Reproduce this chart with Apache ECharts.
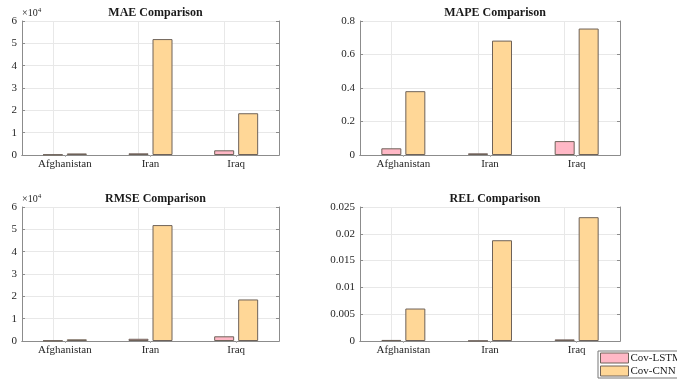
<!DOCTYPE html>
<html><head><meta charset="utf-8">
<script src="https://cdn.jsdelivr.net/npm/echarts@6/dist/echarts.min.js"></script>
<style>html,body{margin:0;padding:0;background:#fff}#c{width:677px;height:379px}</style>
</head><body><div id="c"></div>
<script>
const categories = ['Afghanistan', 'Iran', 'Iraq'];
const seriesNames = ['Cov-LSTM', 'Cov-CNN'];
const maeLstm = [200, 750, 2100];
const maeCnn = [700, 51900, 18700];
const mapeLstm = [0.040, 0.010, 0.083];
const mapeCnn = [0.381, 0.683, 0.755];
const rmseLstm = [200, 1000, 2100];
const rmseCnn = [750, 51900, 18600];
const relLstm = [0.0002, 0.00005, 0.0003];
const relCnn = [0.00606, 0.0188, 0.0231];
const titles = ['MAE Comparison', 'MAPE Comparison', 'RMSE Comparison', 'REL Comparison'];
const yMax = [60000, 0.8, 60000, 0.025];
const yInterval = [10000, 0.2, 10000, 0.005];

const FONT = 'Liberation Serif';
const grids = [
  {left: 22, top: 21, width: 257, height: 134},
  {left: 360, top: 21, width: 260, height: 134},
  {left: 22, top: 207, width: 257, height: 134},
  {left: 360, top: 207, width: 260, height: 134}
];
const pairs = [[maeLstm, maeCnn], [mapeLstm, mapeCnn], [rmseLstm, rmseCnn], [relLstm, relCnn]];
const colors = ['#FFB8C6', '#FFD797'];
const edge = '#6e6259';
const axisCol = '#8c8c8c';

const option = {
  animation: false,
  backgroundColor: '#fff',
  title: grids.map((g, i) => ({
    text: titles[i], left: g.left + g.width / 2, top: g.top - 19, textAlign: 'center',
    textStyle: {fontFamily: FONT, fontSize: 12, fontWeight: 'bold', color: '#1a1a1a'}
  })),
  legend: {
    data: seriesNames, orient: 'vertical', left: 598, top: 351, icon: 'rect',
    itemWidth: 28, itemHeight: 10, itemGap: 1, padding: [1, 4, 1, 2],
    borderColor: '#777', borderWidth: 1, backgroundColor: '#fff', borderRadius: 0,
    textStyle: {fontFamily: FONT, fontSize: 11, color: '#1a1a1a', lineHeight: 12, padding: [0, 0, 0, -3]},
    itemStyle: {borderColor: edge, borderWidth: 1}
  },
  grid: grids.map(g => Object.assign({containLabel: false}, g)),
  xAxis: [],
  yAxis: [],
  series: []
};

grids.forEach((g, i) => {
  option.xAxis.push({
    type: 'category', gridIndex: i, data: categories, position: 'bottom',
    axisLine: {lineStyle: {color: axisCol}},
    axisTick: {show: false},
    axisLabel: {fontFamily: FONT, fontSize: 11, color: '#262626', margin: 4},
    splitLine: {show: false}
  });
  option.xAxis.push({
    type: 'category', gridIndex: i, data: categories, position: 'top',
    axisLine: {lineStyle: {color: axisCol}},
    axisTick: {show: true, inside: true, alignWithLabel: true, length: 2, lineStyle: {color: '#b0b0b0'}},
    axisLabel: {show: false}, splitLine: {show: false}
  });
  const sci = (i === 0 || i === 2);
  option.yAxis.push({
    type: 'value', gridIndex: i, min: 0, max: yMax[i], interval: yInterval[i], position: 'left',
    name: sci ? '×10{s|4}' : '', nameLocation: 'end', nameGap: 2,
    nameTextStyle: {fontFamily: FONT, fontSize: 10, color: '#262626', align: 'left', verticalAlign: 'bottom',
      rich: {s: {fontFamily: FONT, fontSize: 7, verticalAlign: 'top', padding: [0, 0, 5, 0], color: '#262626'}}},
    axisLine: {show: true, lineStyle: {color: axisCol}},
    axisTick: {show: true, inside: true, length: 3, lineStyle: {color: axisCol}},
    axisLabel: {fontFamily: FONT, fontSize: 11, color: '#262626', margin: 5,
      formatter: sci ? (v => String(v / 10000)) : (v => String(+v.toFixed(4)))},
    splitLine: {show: true, lineStyle: {color: '#e8e8e8', width: 1}}
  });
  option.yAxis.push({
    type: 'value', gridIndex: i, min: 0, max: yMax[i], interval: yInterval[i], position: 'right',
    axisLine: {show: true, lineStyle: {color: axisCol}},
    axisTick: {show: true, inside: true, length: 3, lineStyle: {color: axisCol}},
    axisLabel: {show: false}, splitLine: {show: false}
  });
  pairs[i].forEach((arr, k) => {
    const s = {
      name: seriesNames[k], type: 'bar', xAxisIndex: 2 * i, yAxisIndex: 2 * i,
      data: arr, barWidth: 20, barGap: '20%',
      itemStyle: {color: colors[k], borderColor: edge, borderWidth: 1}
    };
    if (k === 0) {
      s.markLine = {
        silent: true, symbol: 'none', label: {show: false}, z: 0,
        lineStyle: {color: '#e8e8e8', type: 'solid', width: 1},
        data: categories.map(c => ({xAxis: c}))
      };
    }
    option.series.push(s);
  });
});

const chart = echarts.init(document.getElementById('c'), null, {renderer: 'canvas'});
chart.setOption(option);
</script>
</body></html>
